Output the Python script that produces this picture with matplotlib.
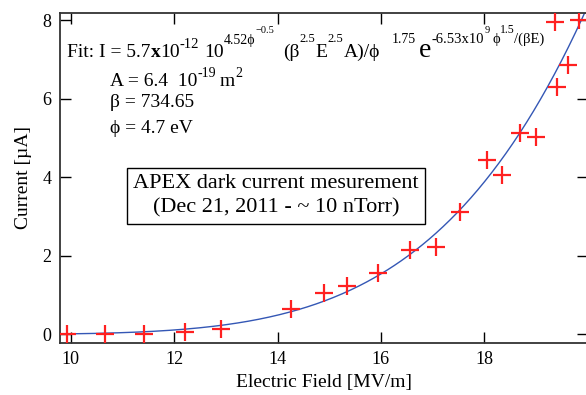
import numpy as np
import matplotlib
matplotlib.use("Agg")
import matplotlib.pyplot as plt

plt.rcParams['font.family'] = ['Liberation Serif', 'DejaVu Serif']
plt.rcParams['mathtext.fontset'] = 'custom'
plt.rcParams['mathtext.rm'] = 'Liberation Serif'
plt.rcParams['mathtext.it'] = 'Liberation Serif:italic'
plt.rcParams['mathtext.bf'] = 'Liberation Serif:bold'

# measured data
field = [9.93, 10.66, 11.42, 12.21, 12.90, 14.27, 14.90, 15.34, 15.94, 16.56,
         17.06, 17.54, 18.05, 18.35, 18.69, 19.00, 19.40, 19.63, 19.38, 19.84]
current = [0.0, 0.0, 0.01, 0.05, 0.13, 0.66, 1.05, 1.23, 1.56, 2.15,
           2.23, 3.13, 4.45, 4.06, 5.13, 5.04, 6.30, 6.87, 7.97, 8.02]

# fit parameters (as printed on the chart)
fit_c = 5.7e-12
area = 6.4e-19
beta = 734.65
phi = 4.7
fit_b = 6.53e9

xticks = [10, 12, 14, 16, 18]
yticks = [0, 2, 4, 6, 8]

fig = plt.figure(figsize=(5.86, 3.95), dpi=100)
W, H = 586, 395
l, r, t, b = 60, 587.5, 13, 342.7
ax = fig.add_axes([l / W, 1 - b / H, (r - l) / W, (b - t) / H])

E = np.linspace(9.93, 20.0, 300)
Ev = E * 1e6
I = (fit_c * 10 ** (4.52 * phi ** -0.5) * (beta ** 2.5 * Ev ** 2.5 * area) / phi ** 1.75
     * np.exp(-fit_b * phi ** 1.5 / (beta * Ev))) * 1e6
ax.plot(E, I, color='#3457b5', lw=1.0, zorder=2)
ax.plot(field, current, linestyle='none', marker='+', color='#ff2020',
        markersize=13, markeredgewidth=1.6, zorder=3)

ax.set_xlim(9.79, 20.0)
ax.set_ylim(-0.21, 8.19)
ax.set_xticks(xticks)
ax.set_yticks(yticks)
ax.tick_params(direction='in', length=8, width=1.0, top=True, right=True,
               labelsize=13, pad=6)
for s in ax.spines.values():
    s.set_linewidth(1.3)
    s.set_color('#333333')

ax.set_xlabel('Electric Field [MV/m]', fontsize=14, labelpad=4)
ax.set_ylabel('Current [µA]', fontsize=14, labelpad=8)

renderer = fig.canvas.get_renderer()


def run(x0, base, pieces):
    """Lay out text pieces left to right: (gap_px, rise_px, text, size, weight)."""
    x = x0
    for gap, dy, s, size, wt in pieces:
        x += gap
        txt = fig.text(x / W, 1 - (base - dy) / H, s, fontsize=size,
                       fontweight=wt, ha='left', va='baseline')
        bb = txt.get_window_extent(renderer)
        x = bb.x1


run(67, 57, [
    (0, 0, 'Fit: I = 5.7', 14, 'normal'),
    (0, 0, 'x', 14, 'bold'),
    (0, 0, '10', 14, 'normal'),
    (0, 9, '-12', 10.5, 'normal'),
    (5, 0, '10', 14, 'normal'),
    (0, 13, '4.52ϕ', 10, 'normal'),
    (0, 24, '−0.5', 7.5, 'normal'),
    (9, 0, '(β', 14, 'normal'),
    (0, 15, '2.5', 9, 'normal'),
    (0, 0, 'E', 14, 'normal'),
    (0, 15, '2.5', 9, 'normal'),
    (0, 0, 'A)/ϕ', 14, 'normal'),
    (12, 14, '1.75', 10, 'normal'),
    (3, 0, 'e', 20, 'normal'),
    (0, 14, '-6.53x10', 10.5, 'normal'),
    (1, 24, '9', 7.5, 'normal'),
    (2, 14, 'ϕ', 10.5, 'normal'),
    (0, 24, '1.5', 8.5, 'normal'),
    (0, 14, '/(βE)', 10.5, 'normal'),
])

run(110, 86, [
    (0, 0, 'A = 6.4  10', 14, 'normal'),
    (0, 9, '-19', 10, 'normal'),
    (4, 0, 'm', 14, 'normal'),
    (0, 9, '2', 10, 'normal'),
])
run(110, 107, [(0, 0, 'β = 734.65', 14, 'normal')])
run(110, 133, [(0, 0, 'ϕ = 4.7 eV', 14, 'normal')])

fig.text(276 / W, 1 - 196 / H,
         'APEX dark current mesurement\n(Dec 21, 2011 - ~ 10 nTorr)',
         fontsize=16, ha='center', va='center', linespacing=1.35,
         bbox=dict(boxstyle='square,pad=0.3', facecolor='white',
                   edgecolor='black', linewidth=1.0))

fig.savefig('out.png', dpi=100)
